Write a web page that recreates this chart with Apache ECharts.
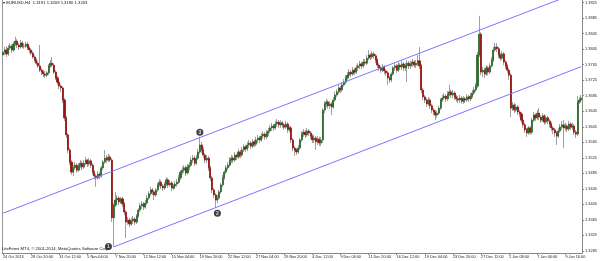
<!DOCTYPE html>
<html><head><meta charset="utf-8">
<script src="https://cdn.jsdelivr.net/npm/echarts@6/dist/echarts.min.js"></script>
<style>html,body{margin:0;padding:0;background:#fff}#c{width:600px;height:261px}</style>
</head><body><div id="c"></div>
<script>
const tickLabels = ["24 Oct 2013","28 Oct 20:00","31 Oct 12:00","5 Nov 04:00","7 Nov 20:00","12 Nov 12:00","15 Nov 04:00","19 Nov 20:00","22 Nov 12:00","27 Nov 04:00","29 Nov 20:00","4 Dec 12:00","9 Dec 04:00","11 Dec 20:00","16 Dec 12:00","19 Dec 04:00","23 Dec 20:00","27 Dec 12:00","2 Jan 08:00","7 Jan 00:00","9 Jan 16:00"];
const barsPerLabel = 16;
const priceTicks = [1.3285,1.3325,1.3365,1.3405,1.3445,1.3485,1.3525,1.3565,1.3605,1.3645,1.3685,1.3725,1.3765,1.3805,1.3845,1.3885,1.3925];
const firstOpen = 1.3790;
const closes = [
1.3798,1.3803,1.3793,1.3808,1.3813,1.3803,1.3818,1.3826,1.3816,1.3811,
1.3821,1.3813,1.3813,1.3818,1.3808,1.3803,1.3795,1.3785,1.3777,1.3769,
1.3762,1.3751,1.3746,1.3741,1.3738,1.3744,1.3762,1.3769,1.3764,1.3746,
1.3731,1.3720,1.3710,1.3705,1.3674,1.3628,1.3584,1.3545,1.3514,1.3488,
1.3499,1.3506,1.3493,1.3504,1.3511,1.3501,1.3511,1.3519,1.3509,1.3517,
1.3506,1.3488,1.3478,1.3473,1.3483,1.3478,1.3499,1.3514,1.3524,1.3519,
1.3527,1.3519,1.3370,1.3403,1.3416,1.3421,1.3411,1.3419,1.3406,1.3385,
1.3359,1.3364,1.3354,1.3362,1.3367,1.3359,1.3375,1.3390,1.3401,1.3406,
1.3398,1.3408,1.3421,1.3432,1.3442,1.3437,1.3429,1.3442,1.3455,1.3462,
1.3452,1.3447,1.3457,1.3468,1.3455,1.3460,1.3447,1.3452,1.3457,1.3462,
1.3473,1.3488,1.3493,1.3499,1.3486,1.3501,1.3506,1.3519,1.3524,1.3511,
1.3524,1.3540,1.3558,1.3545,1.3532,1.3519,1.3524,1.3499,1.3473,1.3442,
1.3429,1.3416,1.3421,1.3437,1.3455,1.3473,1.3488,1.3499,1.3506,1.3519,
1.3524,1.3519,1.3532,1.3527,1.3540,1.3532,1.3545,1.3553,1.3548,1.3558,
1.3563,1.3555,1.3566,1.3560,1.3571,1.3576,1.3571,1.3581,1.3586,1.3579,
1.3589,1.3594,1.3602,1.3607,1.3602,1.3612,1.3617,1.3610,1.3615,1.3610,
1.3604,1.3612,1.3597,1.3602,1.3571,1.3550,1.3545,1.3540,1.3550,1.3571,
1.3586,1.3591,1.3584,1.3594,1.3589,1.3581,1.3571,1.3576,1.3566,1.3573,
1.3563,1.3571,1.3648,1.3664,1.3669,1.3659,1.3664,1.3656,1.3674,1.3687,
1.3695,1.3705,1.3700,1.3713,1.3720,1.3731,1.3738,1.3746,1.3741,1.3751,
1.3746,1.3757,1.3762,1.3767,1.3762,1.3772,1.3769,1.3782,1.3790,1.3785,
1.3793,1.3788,1.3777,1.3764,1.3757,1.3751,1.3759,1.3749,1.3744,1.3731,
1.3726,1.3741,1.3757,1.3762,1.3751,1.3764,1.3759,1.3767,1.3757,1.3762,
1.3769,1.3762,1.3767,1.3772,1.3764,1.3769,1.3775,1.3762,1.3700,1.3682,
1.3674,1.3664,1.3674,1.3659,1.3648,1.3643,1.3635,1.3640,1.3653,1.3674,
1.3679,1.3684,1.3677,1.3689,1.3695,1.3687,1.3692,1.3682,1.3677,1.3674,
1.3679,1.3671,1.3677,1.3674,1.3682,1.3677,1.3684,1.3692,1.3700,1.3710,
1.3790,1.3844,1.3746,1.3751,1.3741,1.3757,1.3746,1.3762,1.3777,1.3803,
1.3811,1.3806,1.3790,1.3782,1.3793,1.3772,1.3762,1.3751,1.3738,1.3653,
1.3661,1.3648,1.3656,1.3643,1.3638,1.3622,1.3610,1.3597,1.3589,1.3602,
1.3591,1.3622,1.3635,1.3628,1.3640,1.3630,1.3622,1.3633,1.3617,1.3628,
1.3620,1.3612,1.3602,1.3597,1.3589,1.3581,1.3594,1.3604,1.3610,1.3602,
1.3607,1.3599,1.3612,1.3604,1.3607,1.3591,1.3586,1.3669,1.3674,1.3679];
const highs = [
1.3806,1.3811,1.3813,1.3816,1.3821,1.3818,1.3824,1.3837,1.3831,1.3821,
1.3829,1.3826,1.3821,1.3824,1.3824,1.3813,1.3808,1.3800,1.3790,1.3782,
1.3775,1.3816,1.3757,1.3751,1.3749,1.3749,1.3767,1.3777,1.3785,1.3769,
1.3751,1.3736,1.3726,1.3715,1.3710,1.3679,1.3633,1.3589,1.3550,1.3519,
1.3506,1.3514,1.3511,1.3511,1.3519,1.3517,1.3519,1.3527,1.3522,1.3524,
1.3522,1.3511,1.3493,1.3483,1.3491,1.3488,1.3504,1.3519,1.3545,1.3532,
1.3535,1.3532,1.3524,1.3408,1.3437,1.3429,1.3426,1.3424,1.3424,1.3411,
1.3390,1.3372,1.3370,1.3370,1.3375,1.3372,1.3380,1.3395,1.3408,1.3413,
1.3411,1.3416,1.3429,1.3439,1.3450,1.3447,1.3442,1.3447,1.3460,1.3470,
1.3468,1.3457,1.3462,1.3475,1.3473,1.3468,1.3465,1.3457,1.3465,1.3470,
1.3481,1.3493,1.3501,1.3506,1.3504,1.3509,1.3514,1.3527,1.3532,1.3530,
1.3532,1.3548,1.3579,1.3566,1.3553,1.3537,1.3532,1.3530,1.3504,1.3478,
1.3447,1.3434,1.3429,1.3442,1.3460,1.3481,1.3493,1.3506,1.3514,1.3527,
1.3532,1.3530,1.3540,1.3535,1.3548,1.3545,1.3553,1.3560,1.3558,1.3566,
1.3571,1.3568,1.3573,1.3571,1.3579,1.3584,1.3581,1.3589,1.3594,1.3591,
1.3597,1.3602,1.3610,1.3615,1.3612,1.3620,1.3625,1.3622,1.3622,1.3620,
1.3615,1.3620,1.3617,1.3607,1.3607,1.3576,1.3555,1.3550,1.3558,1.3576,
1.3594,1.3599,1.3597,1.3602,1.3599,1.3594,1.3586,1.3584,1.3581,1.3581,
1.3579,1.3579,1.3653,1.3671,1.3677,1.3674,1.3671,1.3669,1.3682,1.3695,
1.3702,1.3713,1.3710,1.3720,1.3728,1.3738,1.3746,1.3754,1.3751,1.3759,
1.3757,1.3764,1.3769,1.3775,1.3772,1.3780,1.3780,1.3790,1.3803,1.3795,
1.3800,1.3798,1.3793,1.3782,1.3769,1.3762,1.3767,1.3764,1.3754,1.3749,
1.3736,1.3746,1.3762,1.3769,1.3767,1.3772,1.3769,1.3775,1.3772,1.3769,
1.3777,1.3775,1.3775,1.3780,1.3777,1.3777,1.3790,1.3811,1.3767,1.3705,
1.3687,1.3679,1.3682,1.3679,1.3664,1.3653,1.3648,1.3646,1.3659,1.3679,
1.3687,1.3692,1.3689,1.3697,1.3713,1.3700,1.3700,1.3697,1.3687,1.3684,
1.3687,1.3684,1.3684,1.3682,1.3689,1.3687,1.3692,1.3700,1.3708,1.3718,
1.3798,1.3891,1.3849,1.3759,1.3757,1.3764,1.3762,1.3769,1.3785,1.3811,
1.3821,1.3821,1.3811,1.3795,1.3800,1.3798,1.3777,1.3767,1.3757,1.3744,
1.3669,1.3666,1.3664,1.3661,1.3648,1.3643,1.3628,1.3615,1.3602,1.3607,
1.3607,1.3628,1.3643,1.3640,1.3648,1.3653,1.3635,1.3640,1.3638,1.3635,
1.3633,1.3625,1.3617,1.3607,1.3602,1.3594,1.3602,1.3612,1.3620,1.3622,
1.3615,1.3612,1.3620,1.3617,1.3615,1.3612,1.3597,1.3684,1.3682,1.3687];
const lows = [
1.3782,1.3790,1.3785,1.3788,1.3803,1.3795,1.3798,1.3813,1.3808,1.3803,
1.3806,1.3808,1.3806,1.3808,1.3803,1.3795,1.3790,1.3780,1.3772,1.3764,
1.3757,1.3746,1.3738,1.3733,1.3731,1.3733,1.3738,1.3757,1.3759,1.3741,
1.3726,1.3713,1.3702,1.3695,1.3666,1.3620,1.3576,1.3537,1.3506,1.3481,
1.3478,1.3493,1.3486,1.3488,1.3499,1.3493,1.3496,1.3506,1.3501,1.3504,
1.3499,1.3481,1.3470,1.3450,1.3468,1.3470,1.3473,1.3493,1.3509,1.3511,
1.3514,1.3514,1.3359,1.3295,1.3398,1.3408,1.3403,1.3406,1.3398,1.3377,
1.3318,1.3352,1.3346,1.3349,1.3354,1.3352,1.3354,1.3370,1.3385,1.3393,
1.3390,1.3393,1.3403,1.3416,1.3426,1.3429,1.3416,1.3424,1.3437,1.3450,
1.3444,1.3439,1.3442,1.3452,1.3447,1.3450,1.3439,1.3442,1.3444,1.3450,
1.3457,1.3468,1.3481,1.3486,1.3478,1.3481,1.3493,1.3501,1.3511,1.3504,
1.3506,1.3519,1.3535,1.3537,1.3524,1.3511,1.3511,1.3491,1.3465,1.3434,
1.3421,1.3395,1.3408,1.3416,1.3432,1.3450,1.3468,1.3483,1.3493,1.3501,
1.3511,1.3511,1.3514,1.3519,1.3522,1.3524,1.3527,1.3540,1.3540,1.3542,
1.3550,1.3548,1.3550,1.3553,1.3555,1.3563,1.3563,1.3566,1.3573,1.3571,
1.3573,1.3581,1.3589,1.3594,1.3594,1.3597,1.3604,1.3602,1.3602,1.3602,
1.3597,1.3599,1.3589,1.3591,1.3563,1.3542,1.3530,1.3532,1.3535,1.3545,
1.3566,1.3579,1.3576,1.3579,1.3581,1.3573,1.3563,1.3563,1.3545,1.3558,
1.3555,1.3555,1.3563,1.3640,1.3656,1.3651,1.3651,1.3635,1.3651,1.3669,
1.3682,1.3689,1.3692,1.3695,1.3708,1.3715,1.3726,1.3733,1.3733,1.3736,
1.3738,1.3741,1.3749,1.3754,1.3754,1.3757,1.3762,1.3764,1.3777,1.3777,
1.3780,1.3780,1.3769,1.3757,1.3749,1.3744,1.3746,1.3741,1.3736,1.3713,
1.3718,1.3720,1.3736,1.3749,1.3744,1.3746,1.3751,1.3751,1.3749,1.3749,
1.3720,1.3754,1.3754,1.3759,1.3757,1.3757,1.3762,1.3754,1.3692,1.3674,
1.3666,1.3656,1.3659,1.3651,1.3640,1.3635,1.3622,1.3628,1.3635,1.3648,
1.3669,1.3674,1.3669,1.3671,1.3684,1.3679,1.3679,1.3674,1.3669,1.3666,
1.3666,1.3664,1.3664,1.3666,1.3669,1.3669,1.3671,1.3679,1.3687,1.3695,
1.3705,1.3785,1.3738,1.3733,1.3731,1.3736,1.3738,1.3741,1.3757,1.3772,
1.3798,1.3798,1.3782,1.3775,1.3777,1.3764,1.3754,1.3744,1.3726,1.3630,
1.3646,1.3640,1.3643,1.3635,1.3630,1.3615,1.3602,1.3589,1.3579,1.3584,
1.3584,1.3586,1.3617,1.3620,1.3622,1.3622,1.3615,1.3617,1.3610,1.3612,
1.3612,1.3604,1.3594,1.3586,1.3579,1.3558,1.3576,1.3589,1.3597,1.3550,
1.3594,1.3591,1.3594,1.3597,1.3597,1.3584,1.3576,1.3581,1.3664,1.3669];
const upperChannel = [[0, 1.3382], [329, 1.3955]];
const lowerChannel = [[63, 1.3295], [329, 1.3760]];
const waveBars = [60, 122, 112];
const wavePrices = [1.3296, 1.3382, 1.3591];
const waveLabels = ['1', '2', '3'];
const titleText = '\u25BE EURUSD,H4  1.3191 1.3209 1.3190 1.3203';
const footerText = 'LiteForex MT4, \u00A9 2001-2014, MetaQuotes Software Corp.';
const yMin = 1.32793, yMax = 1.3932;

const opens = closes.map((c, i) => i === 0 ? firstOpen : closes[i - 1]);
const categories = closes.map((c, i) => String(i));
const ohlc = closes.map((c, i) => [opens[i], c, lows[i], highs[i]]);
const bodies = closes.map((c, i) => [opens[i], c, Math.min(opens[i], c), Math.max(opens[i], c)]);

const FONT = 'Liberation Sans';
const chart = echarts.init(document.getElementById('c'), null, {renderer: 'canvas'});
chart.setOption({
  animation: false,
  backgroundColor: '#ffffff',
  title: [
    {text: titleText, left: 3, top: 1, padding: 0,
     textStyle: {fontSize: 4.2, color: '#111', fontWeight: 'normal', fontFamily: FONT}},
    {text: footerText, left: 2, top: 247, padding: 0,
     textStyle: {fontSize: 4.2, color: '#111', fontWeight: 'normal', fontFamily: FONT}}
  ],
  grid: {left: 0, right: 17, top: 0, bottom: 8, containLabel: false},
  xAxis: {
    type: 'category', data: categories, boundaryGap: true,
    axisLine: {show: true, lineStyle: {color: '#888', width: 1}},
    axisTick: {show: true, interval: barsPerLabel - 1, alignWithLabel: true, length: 2, lineStyle: {color: '#888'}},
    axisLabel: {interval: barsPerLabel - 1, align: 'left', margin: 2, fontSize: 3.8, color: '#222', fontFamily: FONT,
      formatter: (v, idx) => (idx % barsPerLabel === 0 && tickLabels[idx / barsPerLabel]) ? tickLabels[idx / barsPerLabel] : ''},
    splitLine: {show: false}
  },
  yAxis: [
    {type: 'value', position: 'right', min: yMin, max: yMax, scale: true,
     axisLine: {show: true, lineStyle: {color: '#888', width: 1}},
     axisTick: {show: true, customValues: priceTicks, length: 2, lineStyle: {color: '#888'}},
     axisLabel: {customValues: priceTicks, margin: 3, fontSize: 3.9, color: '#222', fontFamily: FONT,
       formatter: v => v.toFixed(4)},
     splitLine: {show: false}},
    {type: 'value', position: 'left', min: yMin, max: yMax, scale: true,
     axisLine: {show: true, onZero: false, lineStyle: {color: '#999', width: 1}},
     axisTick: {show: false}, axisLabel: {show: false}, splitLine: {show: false}}
  ],
  series: [
    {type: 'candlestick', data: ohlc, barWidth: 1.2, yAxisIndex: 0,
     itemStyle: {color: '#a0a0a0', color0: '#a0a0a0', borderColor: '#a0a0a0', borderColor0: '#a0a0a0', borderWidth: 1}},
    {type: 'candlestick', data: bodies, barWidth: 1.6, yAxisIndex: 0,
     itemStyle: {color: '#2c6a2c', color0: '#961313', borderColor: '#2c6a2c', borderColor0: '#961313', borderWidth: 0.8}},
    {type: 'line', data: upperChannel, symbol: 'none', yAxisIndex: 0, clip: true,
     lineStyle: {color: '#7777ff', width: 1}},
    {type: 'line', data: lowerChannel, symbol: 'none', yAxisIndex: 0, clip: true,
     lineStyle: {color: '#7777ff', width: 1}},
    {type: 'scatter', yAxisIndex: 0, symbol: 'circle', symbolSize: 7,
     data: waveBars.map((b, i) => [b, wavePrices[i]]),
     itemStyle: {color: '#111'},
     label: {show: true, position: 'inside', formatter: p => waveLabels[p.dataIndex], color: '#fff', fontSize: 5, fontWeight: 'bold', fontFamily: FONT}}
  ]
});
</script></body></html>
